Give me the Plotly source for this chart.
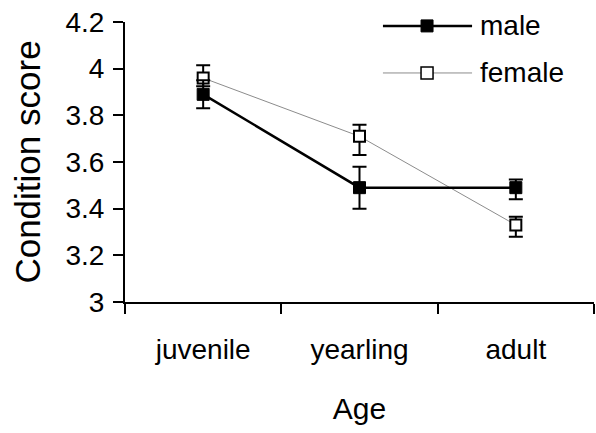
import plotly.graph_objects as go

categories = ["juvenile", "yearling", "adult"]
male_mean = [3.89, 3.49, 3.49]
male_err_plus = [0.06, 0.09, 0.035]
male_err_minus = [0.06, 0.09, 0.05]
female_mean = [3.96, 3.71, 3.33]
female_err_plus = [0.055, 0.05, 0.035]
female_err_minus = [0.035, 0.08, 0.05]
y_ticks = [3.0, 3.2, 3.4, 3.6, 3.8, 4.0, 4.2]
y_tick_labels = ["3", "3.2", "3.4", "3.6", "3.8", "4", "4.2"]
series_names = ["male", "female"]

FONT = "Liberation Sans, Arial, sans-serif"

fig = go.Figure()
fig.add_trace(go.Scatter(
    x=categories, y=female_mean, mode="lines+markers", name=series_names[1],
    line=dict(color="#8c8c8c", width=1),
    marker=dict(symbol="square", size=11, color="white", line=dict(color="black", width=2)),
    error_y=dict(type="data", symmetric=False, array=female_err_plus, arrayminus=female_err_minus,
                 color="black", thickness=2, width=7),
    showlegend=False,
))
fig.add_trace(go.Scatter(
    x=categories, y=male_mean, mode="lines+markers", name=series_names[0],
    line=dict(color="black", width=2.5),
    marker=dict(symbol="square", size=12, color="black", line=dict(color="black", width=1)),
    error_y=dict(type="data", symmetric=False, array=male_err_plus, arrayminus=male_err_minus,
                 color="black", thickness=2, width=7),
    showlegend=False,
))

# custom legend (long line samples like the original)
leg_x0, leg_x1, leg_mx, leg_tx = 0.550, 0.740, 0.644, 0.752
leg_rows = [
    (series_names[0], 0.986, "black", 2.5, "black"),
    (series_names[1], 0.818, "#8c8c8c", 1, "white"),
]
shapes = []
annotations = []
for name, yy, lc, lw, fc in leg_rows:
    shapes.append(dict(type="line", xref="paper", yref="paper", x0=leg_x0, x1=leg_x1, y0=yy, y1=yy,
                       line=dict(color=lc, width=lw)))
    shapes.append(dict(type="rect", xref="paper", yref="paper", xsizemode="pixel", ysizemode="pixel",
                       xanchor=leg_mx, yanchor=yy, x0=-6, x1=6, y0=-6, y1=6,
                       fillcolor=fc, line=dict(color="black", width=1.5 if fc == "white" else 1)))
    annotations.append(dict(text=name, xref="paper", yref="paper", x=leg_tx, y=yy,
                            xanchor="left", yanchor="middle", showarrow=False,
                            font=dict(family=FONT, size=28, color="black")))

fig.update_layout(
    width=596, height=433,
    margin=dict(l=125, r=2, t=22, b=131),
    paper_bgcolor="white", plot_bgcolor="white",
    font=dict(family=FONT, size=28, color="black"),
    shapes=shapes, annotations=annotations,
)
fig.update_xaxes(
    type="category", range=[-0.5, 2.5], tickson="boundaries", automargin=False,
    ticks="outside", ticklen=10, tickwidth=2, tickcolor="black",
    showline=True, linewidth=2, linecolor="black", showgrid=False, zeroline=False,
    tickfont=dict(family=FONT, size=28, color="black"), ticklabelstandoff=21,
    title=dict(text="Age", font=dict(family=FONT, size=30, color="black"), standoff=34),
)
fig.update_yaxes(
    range=[3, 4.2], tickvals=y_ticks, ticktext=y_tick_labels, automargin=False,
    ticks="outside", ticklen=10, tickwidth=2, tickcolor="black",
    showline=True, linewidth=2, linecolor="black", showgrid=False, zeroline=False,
    tickfont=dict(family=FONT, size=28, color="black"), ticklabelstandoff=3,
    title=dict(text="Condition score", font=dict(family=FONT, size=35, color="black"), standoff=14),
)

fig.write_html("out.html", config={"displayModeBar": False},
               post_script="document.body.style.margin='0px';")
